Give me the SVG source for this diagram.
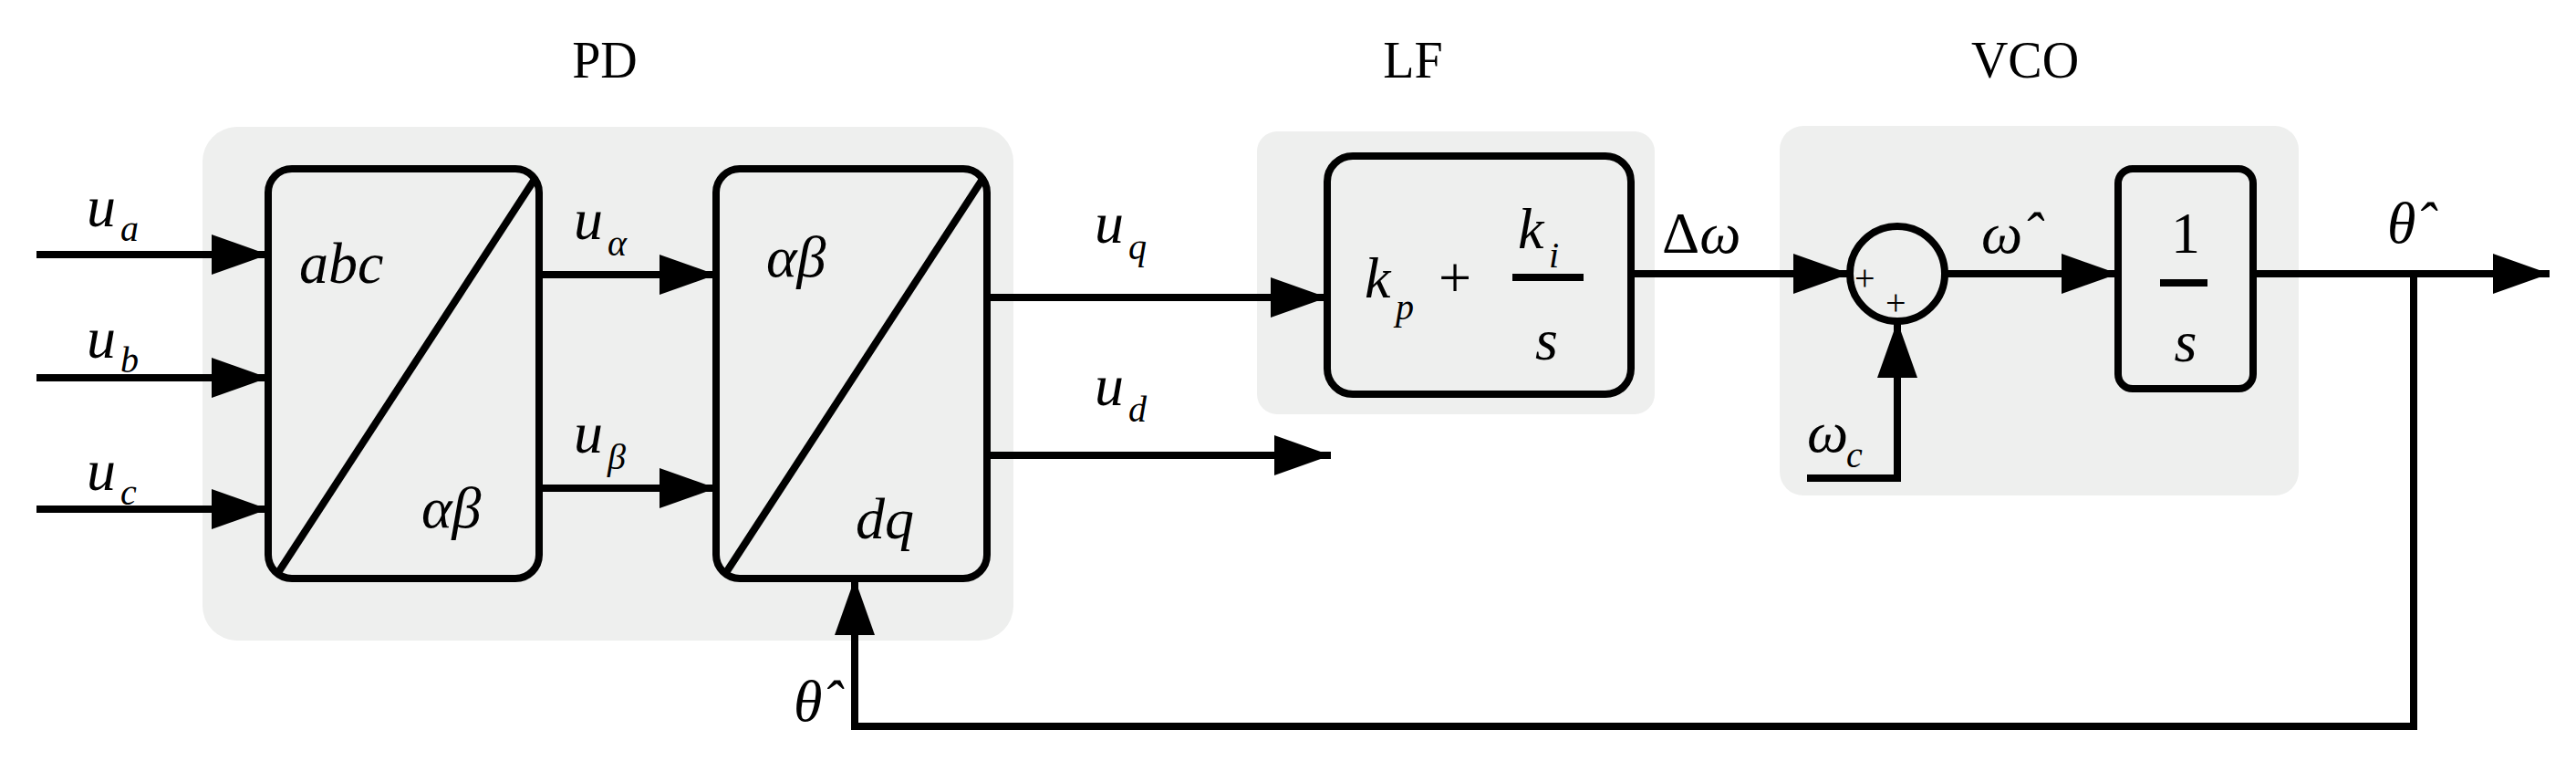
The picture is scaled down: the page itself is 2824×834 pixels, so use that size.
<svg xmlns="http://www.w3.org/2000/svg" width="2824" height="834" viewBox="0 0 2824 834">
<style>
.bg{fill:#eeefee;stroke:none}
.blk{fill:#eeefee;stroke:#000;stroke-width:8}
.ln{fill:none;stroke:#000;stroke-width:8}
.t{font-family:"Liberation Serif",serif;fill:#000}
.i{font-family:"Liberation Serif",serif;font-style:italic;fill:#000}
.h{font-size:56px;text-anchor:middle}
.m{font-size:64px}
.s{font-size:40px}
</style>
<defs>
<marker id="a" markerUnits="userSpaceOnUse" markerWidth="62" markerHeight="44" refX="62" refY="22" orient="auto"><path d="M0,0 L62,22 L0,44 Z" fill="#000"/></marker>
</defs>
<rect width="2824" height="834" fill="#fff"/>
<g id="PD">
<rect class="bg" x="222" y="139" width="889" height="563" rx="38"/>
<text class="t h" x="663" y="85">PD</text>
</g>
<g id="LFg">
<rect class="bg" x="1378" y="144" width="436" height="310" rx="22"/>
<text class="t h" x="1549" y="85">LF</text>
</g>
<g id="VCOg">
<rect class="bg" x="1951" y="138" width="569" height="405" rx="26"/>
<text class="t h" x="2220" y="85">VCO</text>
</g>
<g id="abc">
<rect class="blk" x="294" y="185" width="297" height="449" rx="26"/>
<line class="ln" x1="585" y1="198" x2="306" y2="626"/>
<text class="i m" x="328" y="310">abc</text>
<text class="i m" x="462" y="578">αβ</text>
</g>
<g id="dq">
<rect class="blk" x="785" y="185" width="297" height="449" rx="26"/>
<line class="ln" x1="1076" y1="198" x2="797" y2="626"/>
<text class="i m" x="840" y="303">αβ</text>
<text class="i m" x="938" y="590">dq</text>
</g>
<g id="LF">
<rect class="blk" x="1455" y="171" width="333" height="261" rx="28"/>
<text class="i m" x="1496" y="326">k</text><text class="i s" x="1530" y="350">p</text>
<text class="t m" x="1577" y="326">+</text>
<text class="i m" x="1664" y="272">k</text><text class="i s" x="1698" y="293">i</text>
<line class="ln" x1="1658" y1="304" x2="1736" y2="304"/>
<text class="i m" x="1683" y="394">s</text>
</g>
<g id="sum">
<circle class="ln" cx="2080" cy="300" r="52"/>
<text class="t s" x="2033" y="318">+</text>
<text class="t s" x="2067" y="345">+</text>
</g>
<g id="int">
<rect class="blk" x="2322" y="185" width="148" height="241" rx="16"/>
<text class="t m" x="2396" y="277" text-anchor="middle">1</text>
<line class="ln" x1="2368" y1="310" x2="2420" y2="310"/>
<text class="i m" x="2396" y="396" text-anchor="middle">s</text>
</g>
<g id="connectors">
<line class="ln" x1="40" y1="279" x2="294" y2="279" marker-end="url(#a)"/>
<line class="ln" x1="40" y1="414" x2="294" y2="414" marker-end="url(#a)"/>
<line class="ln" x1="40" y1="558" x2="294" y2="558" marker-end="url(#a)"/>
<line class="ln" x1="591" y1="301" x2="785" y2="301" marker-end="url(#a)"/>
<line class="ln" x1="591" y1="535" x2="785" y2="535" marker-end="url(#a)"/>
<line class="ln" x1="1082" y1="326" x2="1455" y2="326" marker-end="url(#a)"/>
<line class="ln" x1="1082" y1="499" x2="1459" y2="499" marker-end="url(#a)"/>
<line class="ln" x1="1788" y1="300" x2="2028" y2="300" marker-end="url(#a)"/>
<line class="ln" x1="2132" y1="300" x2="2322" y2="300" marker-end="url(#a)"/>
<line class="ln" x1="2470" y1="300" x2="2795" y2="300" marker-end="url(#a)"/>
<polyline class="ln" points="1981,524 2080,524 2080,352" marker-end="url(#a)"/>
<polyline class="ln" points="2646,300 2646,796 937,796 937,634" marker-end="url(#a)"/>
</g>
<g id="labels">
<text class="i m" x="95" y="248">u</text><text class="i s" x="132" y="264">a</text>
<text class="i m" x="95" y="392">u</text><text class="i s" x="132" y="408">b</text>
<text class="i m" x="95" y="537">u</text><text class="i s" x="132" y="553">c</text>
<text class="i m" x="629" y="262">u</text><text class="i s" x="666" y="280">α</text>
<text class="i m" x="629" y="496">u</text><text class="i s" x="666" y="514">β</text>
<text class="i m" x="1200" y="266">u</text><text class="i s" x="1237" y="284">q</text>
<text class="i m" x="1200" y="444">u</text><text class="i s" x="1237" y="462">d</text>
<text class="t m" x="1822" y="277">Δ<tspan font-style="italic">ω</tspan></text>
<text class="i m" x="2172" y="277">ω̂</text>
<text class="i m" x="2617" y="266">θ̂</text>
<text class="i m" x="870" y="790">θ̂</text>
<text class="i m" x="1981" y="495">ω</text><text class="i s" x="2024" y="512">c</text>
</g>
</svg>
